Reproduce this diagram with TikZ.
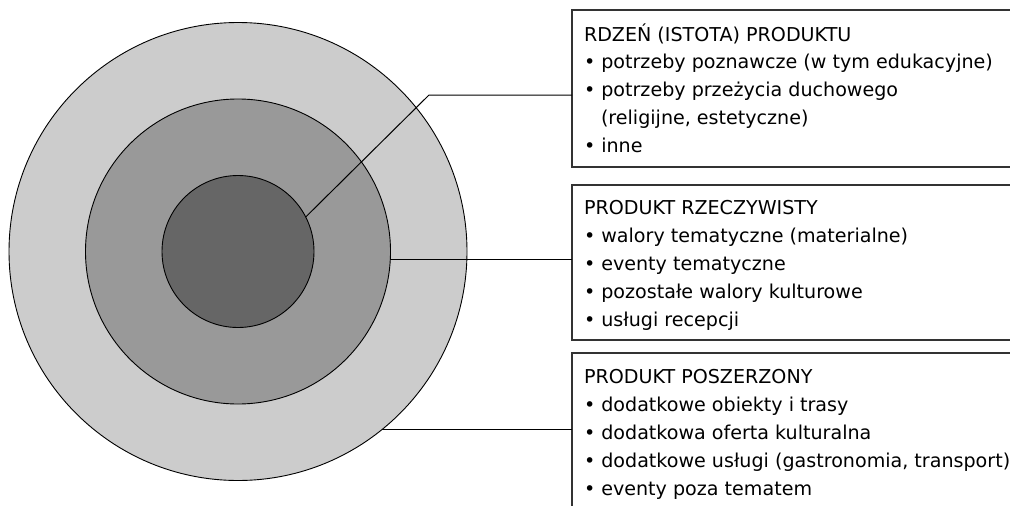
\documentclass[tikz,border=0pt]{standalone}
\usepackage{fontspec}
\setmainfont{DejaVu Sans}
\definecolor{ringA}{HTML}{CCCCCC}
\definecolor{ringB}{HTML}{999999}
\definecolor{ringC}{HTML}{666666}
\definecolor{boxline}{HTML}{333333}
\begin{document}
\begin{tikzpicture}[x=1pt,y=-1pt,
  ring/.style={circle,draw=black,line width=0.9pt,inner sep=0pt,outer sep=0pt},
  infobox/.style={rectangle,draw=boxline,line width=1.2pt,fill=white,inner sep=0pt,outer sep=0pt,anchor=north west,minimum width=480pt},
  conn/.style={draw=black,line width=1pt},
  txt/.style={anchor=base west,inner sep=0pt,outer sep=0pt,font=\fontsize{19.1}{24}\selectfont}]
\clip (0,0) rectangle (1010,506);
\fill[white] (0,0) rectangle (1010,506);
% circles
\node[ring,fill=ringA,minimum size=458pt] (outer) at (238,251.5) {};
\node[ring,fill=ringB,minimum size=305pt] (middle) at (238,251.5) {};
\node[ring,fill=ringC,minimum size=152pt] (inner) at (238,251.5) {};
% boxes
\node[infobox,minimum height=157pt] (box1) at (572,10) {};
\node[infobox,minimum height=155pt] (box2) at (572,185) {};
\node[infobox,minimum height=200pt] (box3) at (572,353) {};
% connectors
\coordinate (k1) at (429,95);
\draw[conn] (inner.27) -- (k1) -- (k1 -| box1.west);
\draw[conn] (middle.-3.6) -- (middle.-3.6 -| box2.west);
\draw[conn] (outer.-51.6) -- (outer.-51.6 -| box3.west);
% texts box 1
\node[txt] (a1) at (584,41) {RDZEŃ (ISTOTA) PRODUKTU};
\node[txt] (a2) at (584,68.75) {• potrzeby poznawcze (w tym edukacyjne)};
\node[txt] (a3) at (584,96.5) {• potrzeby przeżycia duchowego};
\node[txt] (a4) at (601,124.25) {(religijne, estetyczne)};
\node[txt] (a5) at (584,152) {• inne};
% texts box 2
\node[txt] (b1) at (584,214) {PRODUKT RZECZYWISTY};
\node[txt] (b2) at (584,242) {• walory tematyczne (materialne)};
\node[txt] (b3) at (584,270) {• eventy tematyczne};
\node[txt] (b4) at (584,298) {• pozostałe walory kulturowe};
\node[txt] (b5) at (584,326) {• usługi recepcji};
% texts box 3
\node[txt] (c1) at (584,383) {PRODUKT POSZERZONY};
\node[txt] (c2) at (584,411) {• dodatkowe obiekty i trasy};
\node[txt] (c3) at (584,439) {• dodatkowa oferta kulturalna};
\node[txt] (c4) at (584,467) {• dodatkowe usługi (gastronomia, transport)};
\node[txt] (c5) at (584,495) {• eventy poza tematem};
\end{tikzpicture}
\end{document}
